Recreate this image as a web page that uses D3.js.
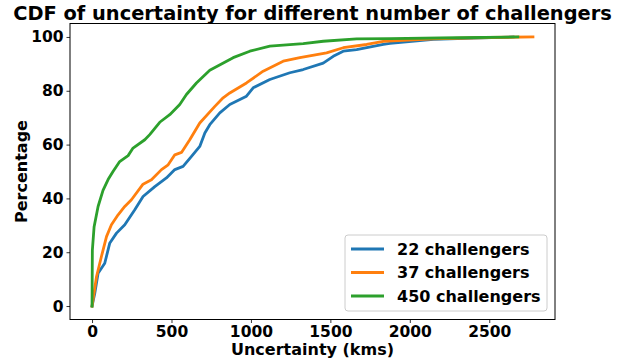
<!DOCTYPE html>
<html>
<head>
<meta charset="utf-8">
<script src="https://cdn.jsdelivr.net/npm/d3@7"></script>
<style>
  body { margin: 0; background: #fff; }
  text { font-family: "DejaVu Sans", sans-serif; font-weight: bold; }
</style>
</head>
<body>
<svg id="chart" width="624" height="362"></svg>
<script>
// curves: [uncertainty km, percentage]
const series22 = [[0,0],[17,4.7],[38,12.2],[80,15.9],[111,23.3],[154,27.1],[206,30.2],[269,35.8],[321,40.7],[395,44.4],[468,47.6],[521,50.7],[573,51.9],[626,55.6],[678,59.3],[710,64.3],[741,67.4],[804,71.8],[867,74.9],[972,78],[1014,81.1],[1119,84.2],[1245,86.7],[1329,87.9],[1455,90.3],[1518,92.8],[1581,94.7],[1665,95.3],[1833,97.2],[1875,97.6],[2148,99.1],[2400,99.6],[2650,100]]
const series37 = [[0,0],[28,10.9],[59,18.4],[91,25.8],[122,30.2],[164,33.9],[206,37],[248,39.5],[321,45.3],[374,46.9],[437,50.7],[479,52.5],[521,56.2],[563,57.1],[615,61.8],[678,68],[773,74.2],[825,77.4],[867,79.2],[972,82.9],[1077,87.3],[1203,91],[1308,92.3],[1476,94.1],[1581,96],[1728,97.2],[1833,98.4],[2148,99.3],[2500,99.8],[2775,100]]
const series450 = [[0,0],[2,20.8],[13,29.5],[38,37],[69,43],[101,47],[132,50],[174,53.7],[227,55.9],[258,58.7],[332,61.8],[363,63.7],[426,68.3],[489,71.1],[552,74.9],[594,78.6],[657,82.9],[741,87.6],[888,92.3],[993,94.7],[1119,96.6],[1329,97.5],[1455,98.4],[1665,99.3],[1875,99.4],[2300,99.7],[2680,100]]
const seriesNames = ['22 challengers', '37 challengers', '450 challengers']
const seriesColors = ['#1f77b4', '#ff7f0e', '#2ca02c']
const xTicks = [0, 500, 1000, 1500, 2000, 2500]
const yTicks = [0, 20, 40, 60, 80, 100]

const svg = d3.select('#chart')
const margin = { left: 70, right: 555, top: 23.5, bottom: 319.5 }

const allSeries = [series22, series37, series450]
const xMax = d3.max(allSeries, s => d3.max(s, d => d[0]))
const xPad = xMax * 0.05 // matplotlib style 5% margins
const x = d3.scaleLinear().domain([-xPad, xMax + xPad]).range([margin.left, margin.right])
const y = d3.scaleLinear().domain([-5, 105]).range([margin.bottom, margin.top])

// curves
const line = d3.line().x(d => x(d[0])).y(d => y(d[1]))
allSeries.forEach((s, i) => {
	svg.append('path')
		.datum(s)
		.attr('d', line)
		.attr('fill', 'none')
		.attr('stroke', seriesColors[i])
		.attr('stroke-width', 2.8)
		.attr('stroke-linejoin', 'round')
		.attr('stroke-linecap', 'square')
})

// axes
const xAxis = svg.append('g')
	.attr('transform', 'translate(0,' + margin.bottom + ')')
	.call(d3.axisBottom(x).tickValues(xTicks).tickSize(3.5).tickPadding(2.5).tickFormat(d3.format('d')))
const yAxis = svg.append('g')
	.attr('transform', 'translate(' + margin.left + ',0)')
	.call(d3.axisLeft(y).tickValues(yTicks).tickSize(3.5).tickPadding(3))
;[xAxis, yAxis].forEach(g => {
	g.select('.domain').remove()
	g.selectAll('text').style('font-size', '15.5px').attr('fill', '#000')
	g.selectAll('line').attr('stroke', '#000').attr('stroke-width', 0.8)
})

// frame
svg.append('rect')
	.attr('x', margin.left).attr('y', margin.top)
	.attr('width', margin.right - margin.left).attr('height', margin.bottom - margin.top)
	.attr('fill', 'none').attr('stroke', '#000').attr('stroke-width', 1)

// title and labels
svg.append('text')
	.attr('x', (margin.left + margin.right) / 2).attr('y', 20)
	.attr('text-anchor', 'middle').style('font-size', '19.4px')
	.text('CDF of uncertainty for different number of challengers')
svg.append('text')
	.attr('x', (margin.left + margin.right) / 2).attr('y', 355)
	.attr('text-anchor', 'middle').style('font-size', '16px')
	.text('Uncertainty (kms)')
svg.append('text')
	.attr('transform', 'translate(27,' + (margin.top + margin.bottom) / 2 + ') rotate(-90)')
	.attr('text-anchor', 'middle').style('font-size', '16px')
	.text('Percentage')

// legend
const legend = svg.append('g').attr('transform', 'translate(345,235)')
legend.append('rect')
	.attr('width', 202).attr('height', 76).attr('rx', 3)
	.attr('fill', '#fff').attr('fill-opacity', 0.8)
	.attr('stroke', '#ccc').attr('stroke-width', 1)
seriesNames.forEach((name, i) => {
	const row = legend.append('g').attr('transform', 'translate(0,' + (14 + i * 23.5) + ')')
	row.append('line')
		.attr('x1', 6).attr('x2', 39)
		.attr('stroke', seriesColors[i]).attr('stroke-width', 2.8)
	row.append('text')
		.attr('x', 52).attr('dy', '0.35em')
		.style('font-size', '16px')
		.text(name)
})
</script>
</body>
</html>
